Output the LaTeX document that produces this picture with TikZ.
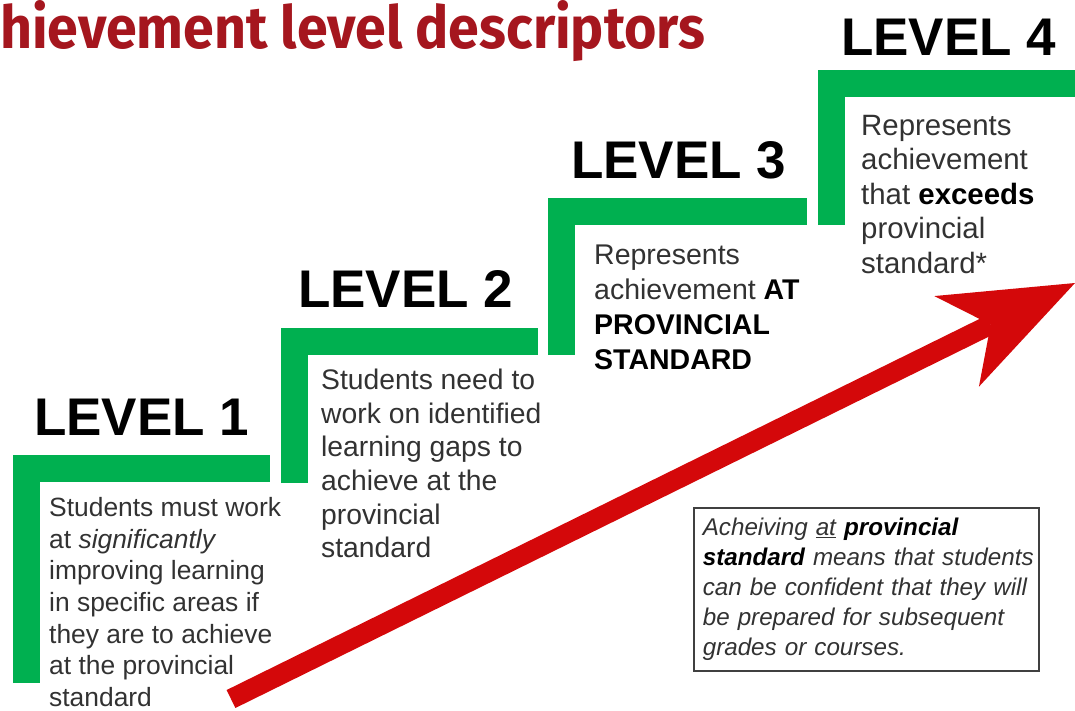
\documentclass[tikz,border=0pt]{standalone}
\usepackage{fontspec}
\setmainfont{Liberation Sans}
\newfontfamily\headfont{Fira Sans}
\usepackage{xcolor}
\usetikzlibrary{arrows.meta}
\definecolor{StepGreen}{RGB}{0,176,80}
\definecolor{ArrowRed}{RGB}{212,8,10}
\definecolor{HeadRed}{RGB}{165,22,30}
\definecolor{TextGrey}{RGB}{50,50,50}

\begin{document}
\begin{tikzpicture}[
    x=1pt, y=-1pt,
    stepline/.style={
      draw=StepGreen,
      line width=27pt,
      line join=miter
    },
    levellabel/.style={
      anchor=base west,
      inner sep=0pt,
      font=\fontsize{53}{60}\selectfont\bfseries
    },
    desc/.style={
      anchor=north west,
      inner sep=0pt,
      align=left,
      text=TextGrey
    },
    notebox/.style={
      draw=black!75,
      line width=1.6pt,
      anchor=north west,
      align=left,
      text width=327pt,
      inner xsep=9pt,
      inner ysep=9pt,
      minimum height=163pt,
      text=TextGrey,
      font=\fontsize{24.2}{30}\selectfont\itshape
    },
    arrow/.style={
      draw=ArrowRed,
      line width=20pt,
      -{Stealth[length=132pt, width=101pt, inset=38pt, line width=0pt]}
    }
  ]
    \useasboundingbox (0,0) rectangle (1075,710);

    \node[anchor=base west, inner sep=0pt, text=HeadRed] (title) at (0,48)
      {\resizebox{705pt}{48pt}{\headfont\bfseries hievement level descriptors}};

    \draw[stepline] (26.5,683) -- (26.5,468.5) -- (270,468.5);
    \draw[stepline] (294,483) -- (294,341) -- (538,341);
    \draw[stepline] (561.5,355) -- (561.5,211.5) -- (807,211.5);
    \draw[stepline] (831.5,225) -- (831.5,83.5) -- (1075,83.5);

    \node[levellabel] (level-1) at (34,435) {LEVEL 1};
    \node[levellabel] (level-2) at (298,307) {LEVEL 2};
    \node[levellabel] (level-3) at (571,178) {LEVEL 3};
    \node[levellabel] (level-4) at (841,55) {LEVEL 4};

    \node[desc, font=\fontsize{26.4}{31.7}\selectfont] (level-1-text) at (49,497)
      {Students must work\\at \textit{significantly}\\improving learning\\
       in specific areas if\\they are to achieve\\at the provincial\\standard};
    \node[desc, font=\fontsize{28.3}{33.6}\selectfont] (level-2-text) at (321,369)
      {Students need to\\work on identified\\learning gaps to\\
       achieve at the\\provincial\\standard};
    \node[desc, font=\fontsize{28.5}{35}\selectfont] (level-3-text) at (594,245)
      {Represents\\achievement \textcolor{black}{\bfseries AT}\\
       \textcolor{black}{\bfseries PROVINCIAL}\\\textcolor{black}{\bfseries STANDARD}};
    \node[desc, font=\fontsize{29.4}{34.4}\selectfont] (level-4-text) at (861,115)
      {Represents\\achievement\\that \textcolor{black}{\bfseries exceeds}\\
       provincial\\standard*};

    \node[notebox] (note) at (693,507)
      {Acheiving \underline{at} \textcolor{black}{\bfseries provincial}\\
       \mbox{\textcolor{black}{\bfseries standard} means that students}\\
       can be confident that they will\\be prepared for subsequent\\
       grades or courses.};

    \coordinate (arrow-tail) at (231,699);
    \coordinate (arrow-tip) at (1075,283);
    \draw[arrow] (arrow-tail) -- (arrow-tip);
  \end{tikzpicture}
\end{document}
